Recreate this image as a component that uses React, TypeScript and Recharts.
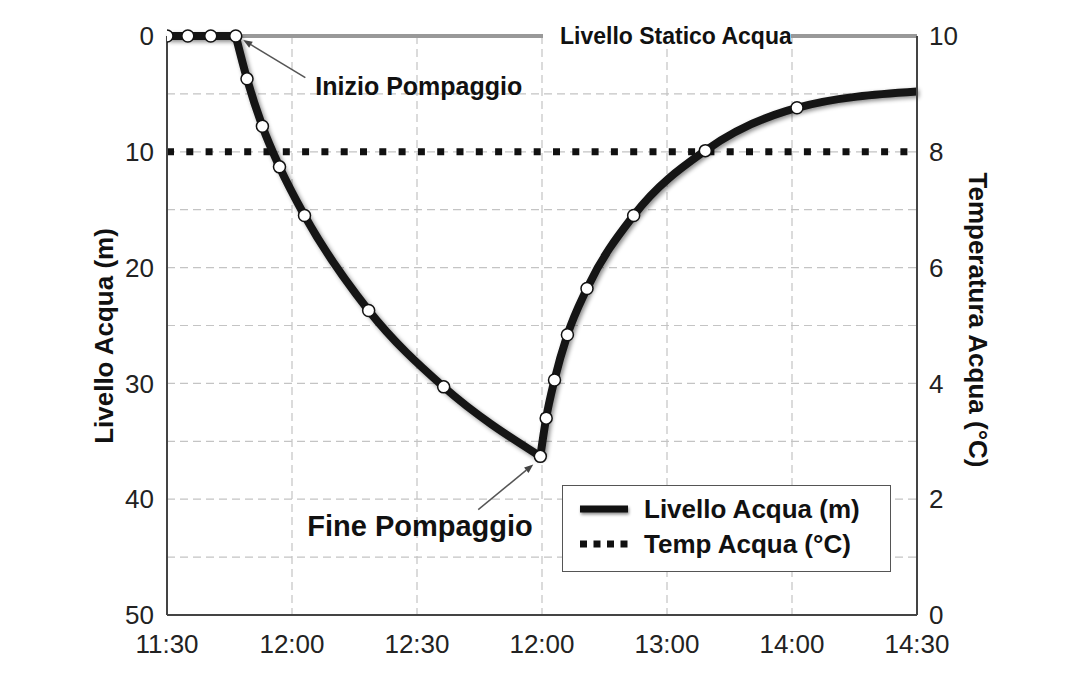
import React from "react";
import {
  LineChart,
  Line,
  XAxis,
  YAxis,
  CartesianGrid,
  ReferenceLine,
  ReferenceDot,
} from "recharts";

// time in minutes after 11:30, water level in metres below ground
const minutes = [0, 5, 10.5, 16.5, 19.2, 22.9, 27.0, 33.0, 48.4, 66.4, 89.6, 91.0, 93.0, 96.1, 100.8, 112.0, 129.2, 151.2, 180];
const levels = [0, 0, 0, 0, 3.7, 7.8, 11.3, 15.5, 23.7, 30.3, 36.3, 33.0, 29.7, 25.8, 21.8, 15.5, 9.9, 6.2, 4.8];

// index of pump start / pump stop within the arrays above
const START = 3;
const STOP = 10;

const tempMinutes = [0, 180];
const tempValues = [8, 8];

const staticMinutes = [16.5, 180];
const staticLevels = [0, 0];

const xTicks = [0, 30, 60, 90, 120, 150, 180];
const xLabels = ["11:30", "12:00", "12:30", "12:00", "13:00", "14:00", "14:30"];
const leftTicks = [0, 5, 10, 15, 20, 25, 30, 35, 40, 45, 50];
const rightTicks = [0, 1, 2, 3, 4, 5, 6, 7, 8, 9, 10];

const levelData = minutes.map((t, i) => ({ t, livello: levels[i] }));
const flatData = levelData.slice(0, START + 1);
const downData = levelData.slice(START, STOP + 1);
const upData = levelData.slice(STOP);
const tempData = tempMinutes.map((t, i) => ({ t, temp: tempValues[i] }));
const staticData = staticMinutes.map((t, i) => ({ t, statico: staticLevels[i] }));

const FONT = "'Liberation Sans', Arial, Helvetica, sans-serif";
const INK = "#111";

const arrowShape =
  (label: string, dx: number, dy: number, fontSize: number) =>
  (props: any) => {
    const { x1, y1, x2, y2 } = props;
    const a = Math.atan2(y2 - y1, x2 - x1);
    const len = 9;
    const w = 3.5;
    const bx = x2 - len * Math.cos(a);
    const by = y2 - len * Math.sin(a);
    const pts = `${x2},${y2} ${bx - w * Math.sin(a)},${by + w * Math.cos(a)} ${bx + w * Math.sin(a)},${by - w * Math.cos(a)}`;
    return (
      <g>
        <line x1={x1} y1={y1} x2={bx} y2={by} stroke="#555" strokeWidth={1.5} />
        <polygon points={pts} fill="#444" />
        <text x={x1 + dx} y={y1 + dy} fontSize={fontSize} fontWeight={700} fill={INK} fontFamily={FONT}>
          {label}
        </text>
      </g>
    );
  };

const staticLabel = (props: any) => {
  const { cx, cy } = props;
  return (
    <g>
      <rect x={cx + 1} y={cy - 11} width={248} height={22} fill="#fff" />
      <text x={cx + 18} y={cy} dominantBaseline="central" fontSize={23} fontWeight={700} fill={INK} fontFamily={FONT}>
        Livello Statico Acqua
      </text>
    </g>
  );
};

const levelDot = (props: any) => {
  const { cx, cy, index } = props;
  if (index === minutes.length - 1) return <g key={`d${index}`} />;
  return <circle key={`d${index}`} cx={cx} cy={cy} r={6} fill="#fff" stroke="#111" strokeWidth={1.5} />;
};

const leftTitle = () => (
  <text
    x={104}
    y={336}
    transform="rotate(-90 104 336)"
    textAnchor="middle"
    dominantBaseline="central"
    fontSize={26}
    fontWeight={700}
    fill={INK}
    fontFamily={FONT}
  >
    Livello Acqua (m)
  </text>
);

const rightTitle = () => (
  <text
    x={978}
    y={320}
    transform="rotate(90 978 320)"
    textAnchor="middle"
    dominantBaseline="central"
    fontSize={26}
    fontWeight={700}
    fill={INK}
    fontFamily={FONT}
  >
    Temperatura Acqua (°C)
  </text>
);

function LegendBox() {
  return (
    <div
      style={{
        position: "absolute",
        left: 562,
        top: 485,
        width: 329,
        height: 87,
        boxSizing: "border-box",
        border: "1.5px solid #555",
        background: "#fff",
        fontFamily: FONT,
        fontSize: 26,
        fontWeight: 700,
        color: INK,
      }}
    >
      <div style={{ position: "absolute", left: 15, top: 8, display: "flex", alignItems: "center", height: 30 }}>
        <svg width={52} height={14} style={{ overflow: "visible" }}>
          <line x1={2} y1={7} x2={50} y2={7} stroke="#111" strokeWidth={7} style={{ filter: "drop-shadow(1px 2px 1.5px rgba(0,0,0,0.45))" }} />
        </svg>
        <span style={{ marginLeft: 14 }}>Livello Acqua (m)</span>
      </div>
      <div style={{ position: "absolute", left: 15, top: 43, display: "flex", alignItems: "center", height: 30 }}>
        <svg width={52} height={14}>
          <line x1={2} y1={7} x2={50} y2={7} stroke="#111" strokeWidth={7} strokeDasharray="7 6.5" />
        </svg>
        <span style={{ marginLeft: 14 }}>Temp Acqua (°C)</span>
      </div>
    </div>
  );
}

export default function App() {
  return (
    <div style={{ position: "relative", width: 1080, height: 675, background: "#fff", fontFamily: FONT }}>
      <style>{`body{margin:0} .lvl{filter:drop-shadow(2px 2px 2px rgba(0,0,0,0.45));}`}</style>
      <LineChart width={1080} height={675} margin={{ top: 36, right: 0, bottom: 10, left: 0 }}>
        <CartesianGrid yAxisId="left" stroke="#c4c4c4" strokeWidth={1.2} strokeDasharray="8 5" />
        <XAxis
          dataKey="t"
          type="number"
          domain={[0, 180]}
          ticks={xTicks}
          allowDataOverflow
          height={50}
          tickFormatter={(v: number) => xLabels[xTicks.indexOf(v)]}
          tickLine={false}
          tickSize={6}
          tickMargin={14}
          stroke="#444"
          strokeWidth={2}
          tick={{ fontSize: 26, fill: "#222", fontFamily: FONT }}
        />
        <YAxis
          yAxisId="left"
          orientation="left"
          width={167}
          domain={[0, 50]}
          reversed
          ticks={leftTicks}
          interval={0}
          tickFormatter={(v: number) => (v % 10 === 0 ? String(v) : "")}
          tickLine={false}
          tickSize={6}
          tickMargin={7}
          stroke="#444"
          strokeWidth={2}
          tick={{ fontSize: 26, fill: "#222", fontFamily: FONT }}
          label={{ content: leftTitle }}
        />
        <YAxis
          yAxisId="right"
          orientation="right"
          width={163}
          domain={[0, 10]}
          ticks={rightTicks}
          interval={0}
          tickFormatter={(v: number) => (v % 2 === 0 ? String(v) : "")}
          tickLine={false}
          tickSize={6}
          tickMargin={6}
          stroke="#444"
          strokeWidth={2}
          tick={{ fontSize: 26, fill: "#222", fontFamily: FONT, textAnchor: "start" }}
          label={{ content: rightTitle }}
        />
        <Line
          yAxisId="left"
          data={staticData}
          dataKey="statico"
          stroke="#999"
          strokeWidth={4}
          dot={false}
          isAnimationActive={false}
        />
        <ReferenceDot yAxisId="left" x={90} y={0} r={0} shape={staticLabel} />
        <Line
          yAxisId="right"
          data={tempData}
          dataKey="temp"
          stroke="#111"
          strokeWidth={7}
          strokeDasharray="7 12.3"
          dot={false}
          isAnimationActive={false}
        />
        <Line
          yAxisId="left"
          data={flatData}
          dataKey="livello"
          type="linear"
          stroke="#151515"
          strokeWidth={8}
          dot={false}
          className="lvl"
          isAnimationActive={false}
        />
        <Line
          yAxisId="left"
          data={downData}
          dataKey="livello"
          type="monotone"
          stroke="#151515"
          strokeWidth={8}
          dot={false}
          className="lvl"
          isAnimationActive={false}
        />
        <Line
          yAxisId="left"
          data={upData}
          dataKey="livello"
          type="monotone"
          stroke="#151515"
          strokeWidth={8}
          strokeLinejoin="round"
          dot={false}
          className="lvl"
          isAnimationActive={false}
        />
        <Line
          yAxisId="left"
          data={levelData}
          dataKey="livello"
          stroke="none"
          dot={levelDot}
          isAnimationActive={false}
        />
        <ReferenceLine
          yAxisId="left"
          segment={[
            { x: 33.2, y: 3.6 },
            { x: 18.3, y: 0.35 },
          ]}
          shape={arrowShape("Inizio Pompaggio", 10, 17, 25)}
        />
        <ReferenceLine
          yAxisId="left"
          segment={[
            { x: 74.7, y: 40.9 },
            { x: 87.9, y: 37.0 },
          ]}
          shape={arrowShape("Fine Pompaggio", -171, 26, 29)}
        />
      </LineChart>
      <LegendBox />
    </div>
  );
}
